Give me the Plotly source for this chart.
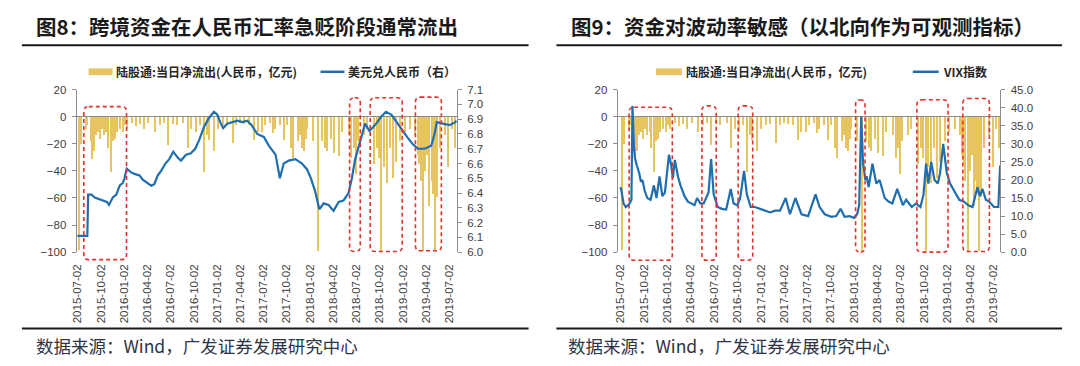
import datetime
import plotly.graph_objects as go

W, H = 1080, 366

# ---------------- data ----------------
flow_dates = [
    "2015-07-08", "2015-07-15", "2015-08-03", "2015-08-08", "2015-08-22", "2015-08-27", "2015-09-04",
    "2015-09-12", "2015-09-19", "2015-09-27", "2015-10-05", "2015-10-14", "2015-10-23", "2015-10-30",
    "2015-11-08", "2015-11-16", "2015-11-25", "2015-12-04", "2015-12-15", "2015-12-25", "2016-01-03",
    "2016-01-12", "2016-01-30", "2016-02-16", "2016-03-02", "2016-03-18", "2016-04-04", "2016-04-29",
    "2016-05-19", "2016-06-05", "2016-06-21", "2016-07-10", "2016-07-26", "2016-08-19", "2016-09-07",
    "2016-09-20", "2016-10-07", "2016-10-23", "2016-11-09", "2016-11-20", "2016-11-28", "2016-12-18",
    "2017-01-02", "2017-01-22", "2017-02-07", "2017-03-02", "2017-03-15", "2017-03-31", "2017-04-17",
    "2017-05-06", "2017-05-26", "2017-06-08", "2017-06-25", "2017-07-08", "2017-07-28", "2017-08-09",
    "2017-08-15", "2017-09-05", "2017-09-20", "2017-10-03", "2017-10-19", "2017-10-27", "2017-11-14",
    "2017-11-22", "2017-12-01", "2017-12-08", "2017-12-14", "2017-12-21", "2018-01-13", "2018-02-02",
    "2018-02-18", "2018-02-27", "2018-03-07", "2018-03-25", "2018-04-04", "2018-04-24", "2018-05-07",
    "2018-06-02", "2018-06-12", "2018-06-22", "2018-06-29", "2018-07-08", "2018-07-30", "2018-08-12",
    "2018-09-08", "2018-09-21", "2018-09-27", "2018-10-08", "2018-10-19", "2018-10-30", "2018-11-09",
    "2018-11-22", "2018-12-05", "2018-12-21", "2019-01-09", "2019-01-29", "2019-02-18", "2019-02-27",
    "2019-03-06", "2019-03-12", "2019-03-21", "2019-03-29", "2019-04-06", "2019-04-14", "2019-04-23",
    "2019-04-29", "2019-05-06", "2019-05-13", "2019-05-26", "2019-06-15", "2019-06-27", "2019-07-11",
    "2019-07-24",
]
flow_values = [
    -98, -20, -8.5, -6, -18, -31, -25,
    -13, -11, -16, -8.5, -13.5, -11, -23,
    -40.5, -18, -16, -11, -8.5, -11, -6,
    -8.5, -4, -6.5, -5, -8.5, -4, -11,
    -6, -4, -20.5, -5, -6, -4, -23,
    -8.5, -11, -6, -40.5, -13.5, -17, -25,
    -8.5, -6, -5, -19, -6, -4, -5,
    -6, -17, -11, -11, -6, -4, -12,
    -8.5, -6, -17, -6, -23, -30, -18,
    -13.5, -23, -25, -16, -8.5, -18, -99,
    -18, -23, -25, -16, -26.5, -29, -11,
    -13.5, -30, -23, -42, -18, -13.5, -8.5,
    -35, -23, -30, -99, -37, -49, -23,
    -45, -33, -18, -11, -8.5, -13.5, -28,
    -35, -47, -99, -40, -28, -66, -47,
    -57, -99, -59, -23, -13.5, -37, -8.5,
    -23,
]

usdcny_dates = [
    "2015-07-02", "2015-08-10", "2015-08-13", "2015-08-26", "2015-09-08", "2015-09-27", "2015-10-10",
    "2015-10-26", "2015-11-03", "2015-11-18", "2015-12-02", "2015-12-15", "2015-12-28", "2016-01-03",
    "2016-01-12", "2016-01-29", "2016-02-11", "2016-03-02", "2016-03-15", "2016-03-30", "2016-04-17",
    "2016-04-29", "2016-05-13", "2016-05-26", "2016-06-12", "2016-06-27", "2016-07-13", "2016-07-30",
    "2016-08-12", "2016-09-01", "2016-09-20", "2016-10-07", "2016-10-23", "2016-11-11", "2016-12-01",
    "2016-12-20", "2017-01-02", "2017-01-16", "2017-01-25", "2017-02-10", "2017-03-02", "2017-03-22",
    "2017-04-10", "2017-04-30", "2017-05-17", "2017-06-08", "2017-06-21", "2017-07-04", "2017-07-24",
    "2017-08-19", "2017-09-05", "2017-09-20", "2017-10-10", "2017-11-05", "2017-12-01", "2017-12-21",
    "2018-01-05", "2018-01-22", "2018-02-07", "2018-02-24", "2018-03-15", "2018-04-04", "2018-04-24",
    "2018-05-13", "2018-06-02", "2018-06-15", "2018-06-28", "2018-07-18", "2018-08-06", "2018-08-23",
    "2018-09-14", "2018-10-10", "2018-10-27", "2018-11-18", "2018-12-08", "2018-12-27", "2019-01-18",
    "2019-02-10", "2019-03-02", "2019-03-28", "2019-04-23", "2019-05-06", "2019-05-15", "2019-06-08",
    "2019-07-04", "2019-07-27", "2019-07-31",
]
usdcny_values = [
    6.11, 6.11, 6.39, 6.39, 6.37, 6.36, 6.35,
    6.34, 6.32, 6.37, 6.39, 6.45, 6.47, 6.50,
    6.565, 6.54, 6.53, 6.52, 6.49, 6.47, 6.45,
    6.46, 6.52, 6.55, 6.60, 6.63, 6.68, 6.64,
    6.62, 6.66, 6.67, 6.70, 6.76, 6.85, 6.91,
    6.95, 6.93, 6.87, 6.84, 6.87, 6.88, 6.89,
    6.88, 6.89, 6.86, 6.80, 6.79, 6.78, 6.72,
    6.66, 6.50, 6.60, 6.62, 6.63, 6.60, 6.56,
    6.50, 6.41, 6.29, 6.33, 6.32, 6.28, 6.34,
    6.35, 6.40, 6.50, 6.63, 6.76, 6.87, 6.82,
    6.86, 6.92, 6.95, 6.93, 6.88, 6.84, 6.78,
    6.73, 6.70, 6.70, 6.72, 6.80, 6.88, 6.87,
    6.86, 6.88, 6.89,
]

vix_dates = [
    "2015-07-02", "2015-07-06", "2015-07-14", "2015-07-23", "2015-08-01", "2015-08-07", "2015-08-14",
    "2015-08-18", "2015-08-24", "2015-08-28", "2015-09-04", "2015-09-13", "2015-09-20", "2015-09-26",
    "2015-10-05", "2015-10-15", "2015-10-28", "2015-11-10", "2015-11-20", "2015-12-02", "2015-12-13",
    "2015-12-23", "2016-01-08", "2016-01-17", "2016-01-23", "2016-01-31", "2016-02-12", "2016-02-22",
    "2016-03-09", "2016-03-22", "2016-04-04", "2016-04-17", "2016-04-27", "2016-05-10", "2016-05-23",
    "2016-06-02", "2016-06-11", "2016-06-21", "2016-07-01", "2016-07-17", "2016-08-02", "2016-08-19",
    "2016-09-06", "2016-09-17", "2016-10-02", "2016-10-13", "2016-10-28", "2016-11-08", "2016-11-23",
    "2016-12-10", "2016-12-30", "2017-01-18", "2017-02-07", "2017-02-26", "2017-03-18", "2017-04-09",
    "2017-04-26", "2017-05-17", "2017-06-10", "2017-07-06", "2017-08-04", "2017-08-20", "2017-09-09",
    "2017-10-05", "2017-10-24", "2017-11-10", "2017-11-26", "2017-12-15", "2018-01-01", "2018-01-14",
    "2018-01-22", "2018-01-30", "2018-02-06", "2018-02-15", "2018-02-20", "2018-02-28", "2018-03-15",
    "2018-03-30", "2018-04-12", "2018-05-02", "2018-05-17", "2018-06-01", "2018-06-20", "2018-07-12",
    "2018-07-25", "2018-08-16", "2018-09-02", "2018-09-19", "2018-10-01", "2018-10-11", "2018-10-20",
    "2018-10-31", "2018-11-13", "2018-11-26", "2018-12-05", "2018-12-17", "2018-12-31", "2019-01-13",
    "2019-01-29", "2019-02-18", "2019-03-09", "2019-03-25", "2019-04-11", "2019-04-30", "2019-05-10",
    "2019-05-20", "2019-06-02", "2019-06-15", "2019-07-04", "2019-07-21", "2019-07-28",
]
vix_values = [
    18, 17, 13.5, 12.5, 13, 13.5, 14.5,
    40.5, 29, 26, 24, 22, 19.5, 20,
    17, 15, 14.5, 18.5, 15, 21, 15.5,
    16.5, 27, 24, 20.5, 25.5, 21, 18.5,
    15.5, 14, 13.5, 13, 15, 13.5, 13.5,
    15, 16.5, 25.8, 16, 12.5, 12, 11.8,
    17.5, 13.5, 13, 15, 22.5, 16, 12.5,
    12.5, 12, 11.5, 11, 11.5, 11.5, 15,
    10.5, 15, 10.5, 10, 16, 12.5, 10.5,
    9.8, 10, 12, 9.8, 10, 9.5, 10.5,
    13, 37.5, 25, 20, 21, 18, 24.5,
    19, 20, 15, 14, 13.5, 17.5, 13,
    14.5, 12.5, 13.5, 12.5, 16, 24.5, 19,
    25, 20, 19, 22, 30, 22, 19,
    17, 14.5, 14, 13, 12.5, 18, 15.5,
    17.5, 14.5, 14, 12.5, 12.5, 24,
]

tick_dates = [
    "2015-07-02", "2015-10-02", "2016-01-02", "2016-04-02", "2016-07-02", "2016-10-02",
    "2017-01-02", "2017-04-02", "2017-07-02", "2017-10-02", "2018-01-02", "2018-04-02",
    "2018-07-02", "2018-10-02", "2019-01-02", "2019-04-02", "2019-07-02",
]

title_left = "图8：跨境资金在人民币汇率急贬阶段通常流出"
title_right = "图9：资金对波动率敏感（以北向作为可观测指标）"
legend_flow = "陆股通:当日净流出(人民币，亿元)"
legend_fx = "美元兑人民币（右）"
legend_vix = "VIX指数"
source_text = "数据来源：Wind，广发证券发展研究中心"

# highlighted periods (date span, top/bottom in left-axis units)
left_boxes = [
    ("2015-07-27", "2016-01-11", 7.5, -105.5),
    ("2018-06-06", "2018-07-18", 14, -99.5),
    ("2018-08-26", "2018-12-30", 14, -99.5),
    ("2019-02-20", "2019-06-02", 14.5, -99),
]
right_boxes = [
    ("2015-08-05", "2016-01-21", 7, -106),
    ("2016-05-16", "2016-07-11", 8, -106),
    ("2016-10-05", "2016-12-01", 8, -106),
    ("2018-01-08", "2018-02-14", 12.5, -100),
    ("2018-09-05", "2019-01-05", 12.5, -100),
    ("2019-03-04", "2019-06-16", 13.5, -99.5),
]

# ---------------- layout geometry (pixels) ----------------
PLOT_TOP, PLOT_BOT = 86.5, 254.5
LEFT_X = (72, 454)
RIGHT_X = (615.5, 1000)
LEFT_RANGE = ("2015-06-29", "2019-08-02")
RIGHT_RANGE = ("2015-06-21", "2019-07-29")

GOLD = "#E6C462"
BLUE = "#1F6EB0"
RED = "#E0332E"
AXIS = "#8C8C8C"
TXT = "#404040"
TICKFONT = dict(family="Liberation Sans, Arial", size=11.5, color=TXT)
CJK = "Noto Sans CJK SC"


def px(x):
    return x / W


def py(y):
    return 1 - y / H


def dord(s):
    return datetime.date.fromisoformat(s).toordinal()


def date_px(s, rng, span):
    f = (dord(s) - dord(rng[0])) / (dord(rng[1]) - dord(rng[0]))
    return span[0] + f * (span[1] - span[0])


def val_py(v):
    return PLOT_TOP + (20 - v) / 120 * (PLOT_BOT - PLOT_TOP)


fig = go.Figure()

bar_w = 4 * 86400000
# left chart
fig.add_trace(go.Bar(x=flow_dates, y=flow_values, marker=dict(color=GOLD, line=dict(width=0)),
                     width=bar_w, xaxis="x", yaxis="y", showlegend=False))
fig.add_trace(go.Scatter(x=usdcny_dates, y=usdcny_values, mode="lines",
                         line=dict(color=BLUE, width=2.2), xaxis="x", yaxis="y2", showlegend=False))
# right chart
fig.add_trace(go.Bar(x=flow_dates, y=flow_values, marker=dict(color=GOLD, line=dict(width=0)),
                     width=bar_w, xaxis="x2", yaxis="y3", showlegend=False))
fig.add_trace(go.Scatter(x=vix_dates, y=vix_values, mode="lines",
                         line=dict(color=BLUE, width=2.2), xaxis="x2", yaxis="y4", showlegend=False))

ydom = [py(PLOT_BOT), py(PLOT_TOP)]


def xaxis_cfg(span, rng, anchor):
    return dict(domain=[px(span[0]), px(span[1])], type="date", range=list(rng), anchor=anchor,
                tickmode="array", tickvals=tick_dates, ticktext=tick_dates, tickangle=-90,
                tickfont=TICKFONT, showgrid=False, showline=False, ticks="", zeroline=False,
                ticklabelstandoff=9)


def yleft_cfg(anchor):
    return dict(domain=ydom, range=[-100, 20], dtick=20, tick0=0, anchor=anchor, showgrid=False,
                showline=True, linecolor=AXIS, linewidth=1, ticks="outside", ticklen=4,
                tickcolor=AXIS, tickfont=TICKFONT, zeroline=True, zerolinecolor="#8C8C8C",
                zerolinewidth=1.2, ticklabelstandoff=3)


def yright_cfg(anchor, overlay, rng, dtick):
    return dict(range=rng, dtick=dtick, tick0=rng[0], anchor=anchor, overlaying=overlay, side="right",
                tickformat=".1f", showgrid=False, showline=True, linecolor=AXIS, linewidth=1,
                ticks="outside", ticklen=4, tickcolor=AXIS, tickfont=TICKFONT, zeroline=False,
                ticklabelstandoff=3)


shapes = []
annotations = []


def rbox(x0, x1, y0, y1, r=5):
    X, Y = px, py
    path = (f"M {X(x0 + r)},{Y(y0)} L {X(x1 - r)},{Y(y0)} Q {X(x1)},{Y(y0)} {X(x1)},{Y(y0 + r)} "
            f"L {X(x1)},{Y(y1 - r)} Q {X(x1)},{Y(y1)} {X(x1 - r)},{Y(y1)} "
            f"L {X(x0 + r)},{Y(y1)} Q {X(x0)},{Y(y1)} {X(x0)},{Y(y1 - r)} "
            f"L {X(x0)},{Y(y0 + r)} Q {X(x0)},{Y(y0)} {X(x0 + r)},{Y(y0)} Z")
    return dict(type="path", path=path, xref="paper", yref="paper",
                line=dict(color=RED, width=1.6, dash="4px,3px"), layer="above")


for d0, d1, top, bot in left_boxes:
    shapes.append(rbox(date_px(d0, LEFT_RANGE, LEFT_X), date_px(d1, LEFT_RANGE, LEFT_X),
                       val_py(top), val_py(bot)))
for d0, d1, top, bot in right_boxes:
    shapes.append(rbox(date_px(d0, RIGHT_RANGE, RIGHT_X), date_px(d1, RIGHT_RANGE, RIGHT_X),
                       val_py(top), val_py(bot)))

# title rules and bottom rules
for x0, x1 in [(17, 526), (554, 1062)]:
    for yy in (40.5, 333.5):
        shapes.append(dict(type="line", xref="paper", yref="paper", x0=px(x0), x1=px(x1),
                           y0=py(yy), y1=py(yy), line=dict(color="#1a1a1a", width=2)))

# titles
for x0, t in [(29, title_left), (567, title_right)]:
    annotations.append(dict(text=f"<b>{t}</b>", x=px(x0), y=py(20.5), xref="paper", yref="paper",
                            xanchor="left", yanchor="middle", showarrow=False,
                            font=dict(family=CJK, size=20.5, color="#1a1a1a")))
# sources
for x0 in (29, 564):
    annotations.append(dict(text=source_text, x=px(x0), y=py(351), xref="paper", yref="paper",
                            xanchor="left", yanchor="middle", showarrow=False,
                            font=dict(family=CJK, size=17.5, color="#2e3446")))

# legends
LEG_Y = 68
LEGFONT = dict(family=CJK, size=12, color="#262626")


def legend_bar(x0, x1):
    shapes.append(dict(type="rect", xref="paper", yref="paper", x0=px(x0), x1=px(x1),
                       y0=py(LEG_Y + 3.5), y1=py(LEG_Y - 3.5), fillcolor=GOLD, line=dict(width=0)))


def legend_line(x0, x1):
    shapes.append(dict(type="line", xref="paper", yref="paper", x0=px(x0), x1=px(x1),
                       y0=py(LEG_Y), y1=py(LEG_Y), line=dict(color=BLUE, width=2.5)))


def legend_text(x0, t):
    annotations.append(dict(text=f"<b>{t}</b>", x=px(x0), y=py(LEG_Y), xref="paper", yref="paper",
                            xanchor="left", yanchor="middle", showarrow=False, font=LEGFONT))


legend_bar(84, 108)
legend_text(110, legend_flow)
legend_line(317, 341)
legend_text(343, legend_fx)
legend_bar(654, 680)
legend_text(682, legend_flow)
legend_line(912, 938)
legend_text(940, legend_vix)

fig.update_layout(
    width=W, height=H, margin=dict(l=0, r=0, t=0, b=0),
    paper_bgcolor="white", plot_bgcolor="white",
    bargap=0, barmode="overlay",
    xaxis=xaxis_cfg(LEFT_X, LEFT_RANGE, "y"),
    yaxis=yleft_cfg("x"),
    yaxis2=yright_cfg("x", "y", [6.0, 7.1], 0.1),
    xaxis2=xaxis_cfg(RIGHT_X, RIGHT_RANGE, "y3"),
    yaxis3=yleft_cfg("x2"),
    yaxis4=yright_cfg("x2", "y3", [0, 45], 5),
    shapes=shapes, annotations=annotations,
    font=dict(family="Liberation Sans, Arial", color=TXT),
)

fig.write_html("out.html", config={"displayModeBar": False},
               post_script="document.body.style.margin='0';")
